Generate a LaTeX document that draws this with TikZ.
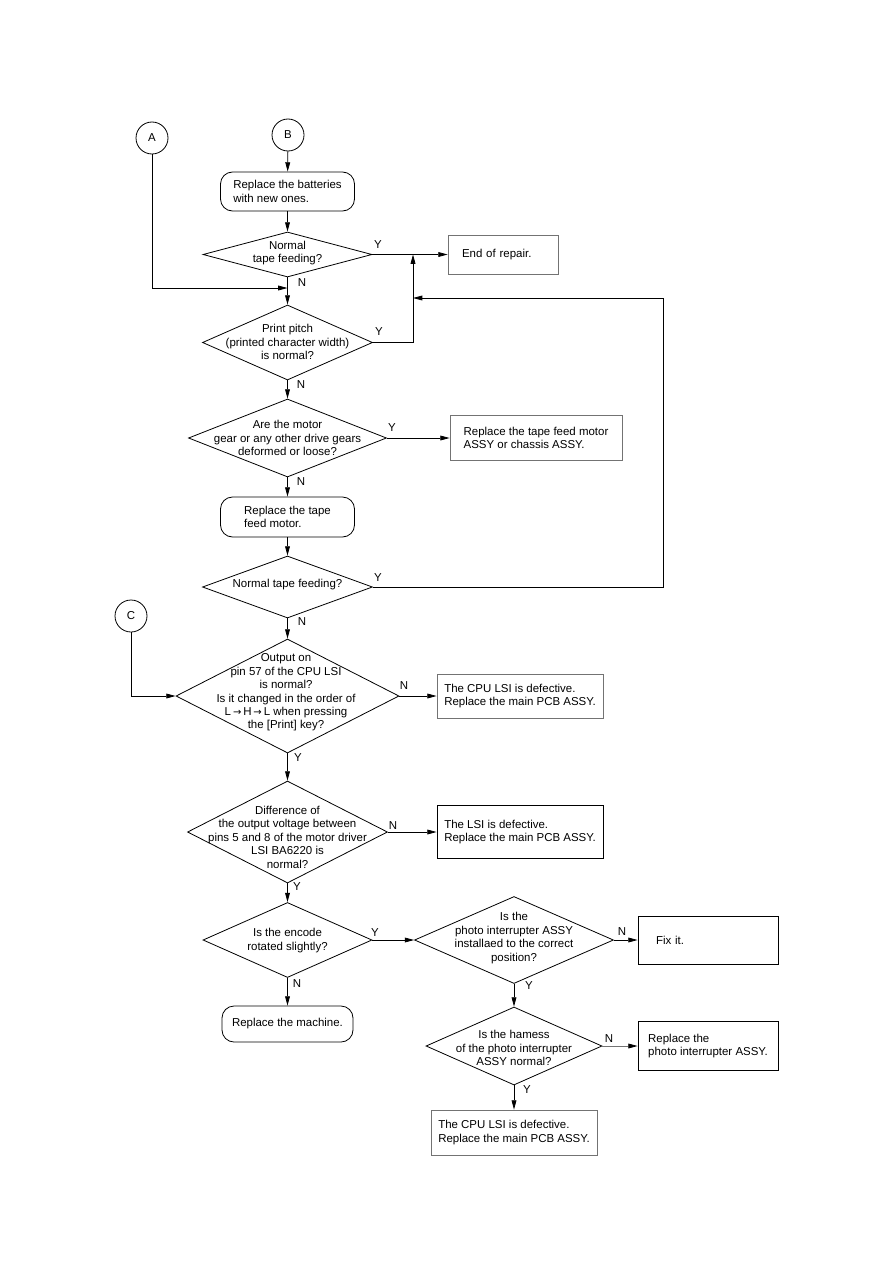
\documentclass[tikz,border=0pt]{standalone}
\usepackage{fontspec}
\setmainfont{Liberation Sans}
\newfontfamily\arrowfont{DejaVu Sans}
\usetikzlibrary{shapes.geometric,arrows.meta}
\newcommand\fsz{\fontsize{8.6}{10.1}\selectfont}
\newcommand\sarr{{\arrowfont\fontsize{7.5}{8}\selectfont →}}
\tikzset{
  con/.style={circle, draw, minimum size=24pt, inner sep=0pt},
  dia/.style={diamond, draw, inner sep=0pt},
  txt/.style={align=center, inner sep=0pt, font=\fsz},
  rbox/.style={draw, rounded corners=9pt, align=left, inner sep=0pt, font=\fsz},
  sbox/.style={draw, align=left, inner sep=0pt, font=\fsz},
  gbox/.style={sbox, draw=black!55},
  arr/.style={-{Triangle[length=7pt,width=3.6pt,color=black]}},
  lbl/.style={inner sep=0pt, font=\fsz}
}
\begin{document}
\begin{tikzpicture}[x=0.75pt,y=-0.75pt,line width=0.6pt]
\useasboundingbox (0,0) rectangle (893,1263);

% connectors (start) circles
\node[con,font=\fsz] (A) at (152,138) {A};
\node[con,font=\fsz] (B) at (288,135) {B};
\node[con,font=\fsz] (C) at (131,616) {C};

% process boxes
\node[rbox, minimum width=100.5pt, minimum height=29.25pt] (r1) at (287.5,191.5) {Replace the batteries\\with new ones.};
\node[gbox, minimum width=82.5pt, minimum height=29.25pt, text width=61.5pt, inner xsep=10.5pt] (end) at (503,254.5) {End of repair.};
\node[gbox, minimum width=129pt, minimum height=33.75pt] (motor) at (536,438) {Replace the tape feed motor\\ASSY or chassis ASSY.};
\node[rbox, minimum width=100.5pt, minimum height=30pt] (r2) at (287.5,517) {Replace the tape\\feed motor.};
\node[gbox, minimum width=124.5pt, minimum height=33pt] (cpu1) at (520,696) {The CPU LSI is defective.\\Replace the main PCB ASSY.};
\node[sbox, minimum width=124.5pt, minimum height=39.75pt] (lsi) at (520,832) {The LSI is defective.\\Replace the main PCB ASSY.};
\node[sbox, minimum width=105pt, minimum height=36pt, text width=78pt, inner xsep=13.5pt] (fix) at (708,940) {Fix it.};
\node[rbox, minimum width=98.25pt, minimum height=27pt] (r3) at (287.5,1024) {Replace the machine.};
\node[sbox, minimum width=105pt, minimum height=36.75pt] (photo) at (708,1046) {Replace the\\photo interrupter ASSY.};
\node[gbox, minimum width=124.5pt, minimum height=33.75pt] (cpu2) at (514,1132.5) {The CPU LSI is defective.\\Replace the main PCB ASSY.};

% decisions
\node[dia, minimum width=126.75pt, minimum height=33.75pt] (d1) at (287.5,254.5) {};
\node[txt] (t1) at (287.5,253) {Normal\\tape feeding?};
\node[dia, minimum width=127.5pt, minimum height=56.25pt] (d2) at (287.5,342.5) {};
\node[txt] (t2) at (287.5,342) {Print pitch\\(printed character width)\\is normal?};
\node[dia, minimum width=148.5pt, minimum height=58.5pt] (d3) at (287.5,438) {};
\node[txt] (t3) at (287.5,438) {Are the motor\\gear or any other drive gears\\deformed or loose?};
\node[dia, minimum width=127.5pt, minimum height=46.5pt] (d4) at (287.5,587) {};
\node[txt] (t4) at (287.5,585) {Normal tape feeding?};
\node[dia, minimum width=167.25pt, minimum height=85.5pt] (d5) at (287.5,696) {};
\node[txt] (t5) at (286,692.5) {Output on\\pin 57 of the CPU LSI\\is normal?\\Is it changed in the order of\\L\,\sarr\,H\,\sarr\,L when pressing\\the [Print] key?};
\node[dia, minimum width=150pt, minimum height=76.5pt] (d6) at (287.5,832) {};
\node[txt] (t6) at (287.5,837) {Difference of\\the output voltage between\\pins 5 and 8 of the motor driver\\LSI BA6220 is\\normal?};
\node[dia, minimum width=126.75pt, minimum height=56.25pt] (d7) at (287.5,940) {};
\node[txt] (t7) at (287.5,940.5) {Is the encode\\rotated slightly?};
\node[dia, minimum width=149.25pt, minimum height=65.25pt] (d8) at (514,940) {};
\node[txt] (t8) at (514,938) {Is the\\photo interrupter ASSY\\installaed to the correct\\position?};
\node[dia, minimum width=132pt, minimum height=58.5pt] (d9) at (514,1046) {};
\node[txt] (t9) at (514,1048) {Is the hamess\\of the photo interrupter\\ASSY normal?};

% junction points
\coordinate (j1) at (287.5,288);
\coordinate (j2) at (413,254.5);
\coordinate (j3) at (663,298);
\coordinate (j4) at (413,298);

% arrows
\draw[arr] (B) -- (r1);
\draw[arr] (r1) -- (d1);
\draw[arr] (d1) -- (end);
\draw[arr] (d1) -- (d2);
\draw[arr] (A) |- (j1);
\draw[arr] (d2.east) -| (j2);
\draw[arr] (d2) -- (d3);
\draw[arr] (d3) -- (motor);
\draw[arr] (d3) -- (r2);
\draw[arr] (r2) -- (d4);
\draw[arr] (d4.east) -| (j3) -- (j4);
\draw[arr] (d4) -- (d5);
\draw[arr] (C) |- (d5.west);
\draw[arr] (d5) -- (cpu1);
\draw[arr] (d5) -- (d6);
\draw[arr] (d6) -- (lsi);
\draw[arr] (d6) -- (d7);
\draw[arr] (d7) -- (d8);
\draw[arr] (d7) -- (r3);
\draw[arr] (d8) -- (fix);
\draw[arr] (d8) -- (d9);
\draw[arr, draw=black!55] (d9) -- (photo);
\draw[arr] (d9) -- (cpu2);

% branch labels
\node[lbl] (y1) at (378,245) {Y};
\node[lbl] (n1) at (302,283) {N};
\node[lbl] (y2) at (379,332) {Y};
\node[lbl] (n2) at (301,385) {N};
\node[lbl] (y3) at (392,428) {Y};
\node[lbl] (n3) at (301,482) {N};
\node[lbl] (y4) at (378,578) {Y};
\node[lbl] (n4) at (302,622) {N};
\node[lbl] (n5) at (404,686) {N};
\node[lbl] (y5) at (298,758) {Y};
\node[lbl] (n6) at (393,826) {N};
\node[lbl] (y6) at (297,887) {Y};
\node[lbl] (y7) at (375,933) {Y};
\node[lbl] (n7) at (297,984) {N};
\node[lbl] (n8) at (622,932) {N};
\node[lbl] (y8) at (529,986) {Y};
\node[lbl] (n9) at (609,1039) {N};
\node[lbl] (y9) at (527,1090) {Y};
\end{tikzpicture}
\end{document}
